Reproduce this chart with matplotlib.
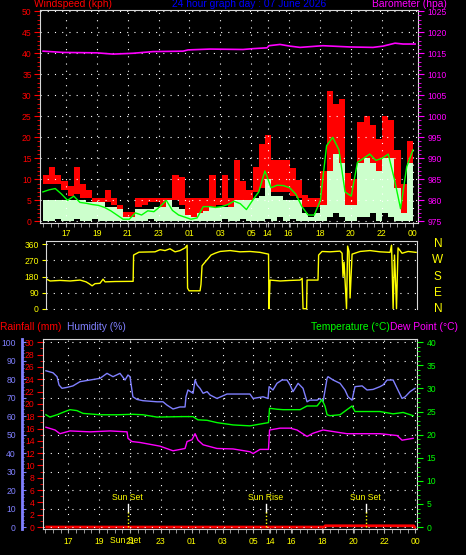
import matplotlib
matplotlib.use('Agg')
import matplotlib.pyplot as plt
from matplotlib.ticker import MultipleLocator

plt.rcParams['font.family'] = ['Liberation Sans', 'DejaVu Sans']

# x axis = hours after 16:00 (labels printed as on the original graph)
tick_pos = [1, 3, 5, 7, 9, 11, 13, 14.07, 15.43, 17.48, 19.47, 21.48, 23.5]
tick_lab = ['17', '19', '21', '23', '01', '03', '05', '14', '16', '18', '20', '22', '00']

# wind (kph)
wind_t = [-0.5, -0.1, 0.3, 0.7, 1.1, 1.5, 1.9, 2.3, 2.7, 3.1, 3.5, 3.9, 4.3, 4.7, 5.1,
          5.5, 5.9, 6.3, 6.7, 7.1, 7.5, 7.9, 8.3, 8.7, 9.1, 9.5, 9.9, 10.3, 10.7, 11.1,
          11.5, 11.9, 12.3, 12.7, 13.1, 13.5, 13.9, 14.3, 14.7, 15.1, 15.5, 15.9, 16.3,
          16.7, 17.1, 17.5, 17.9, 18.3, 18.7, 19.1, 19.5, 19.9, 20.3, 20.7, 21.1, 21.5,
          21.9, 22.3, 22.7, 23.1, 23.5]
gust_hi = [11, 13, 11, 9.5, 8.5, 13, 9, 7.5, 5.5, 5.5, 7.5, 5.5, 4, 2.3, 2.3, 5.5, 5.5,
           5.5, 5.5, 5.5, 5.5, 11, 10.5, 5.5, 5.5, 5.5, 5.5, 11, 5.5, 11, 5.5, 14.5, 9.5,
           7.5, 13, 18.5, 20.5, 14.5, 14.5, 14.5, 12.6, 9.8, 6.2, 5.5, 5.5, 12, 31, 28,
           29, 11.5, 10, 23.7, 25, 23, 19.7, 25, 24, 17, 9, 19, 27.5]
gust_lo = [9, 9, 9, 7.5, 6, 6.5, 5.5, 5.5, 4.5, 4.5, 4.5, 4, 3, 1, 1, 3.5, 4, 4.5, 4.5,
           3.5, 3.5, 5, 4, 1.5, 1, 1, 2.5, 3.5, 4, 4, 3.5, 5, 5, 4.5, 7, 8, 10, 7, 7, 7,
           6, 5.5, 3.5, 3.5, 3.5, 4, 12, 13, 12, 3.5, 4, 12, 12, 11, 10, 12, 12, 5, 2, 8, 14]
spd_hi = [5, 5, 5, 5, 5, 5, 5, 4.5, 4.5, 4.5, 3.5, 3.5, 3, 1, 1, 3, 3, 3, 3.5, 3.5, 5,
          3.5, 3, 1.5, 1, 2, 2.5, 3.5, 3.5, 3.5, 3.5, 5, 5, 5, 5.5, 6, 10, 6, 6, 5, 5, 5,
          2, 1, 2, 4, 12, 16, 14, 4, 4, 14, 15, 14, 12, 15, 15, 8, 2, 14, 16]
spd_lo = [0, 0, 0.5, 0, 0, 0.5, 0, 0, 0.5, 0, 0, 0, 0, 0, 0, 0, 0, 0.5, 0, 0,
          0, 0, 0, 0, 0, 0, 0, 0, 0, 0.5, 0, 0, 0.5, 0, 0, 0, 0.5, 0, 1, 0, 0.5,
          0, 0, 0, 0, 0, 1, 2, 1, 0, 0, 1, 1, 2, 0, 2, 1, 0, 0, 0, 1]
wind_avg = [7, 7.5, 7.8, 6.5, 5, 6, 4.5, 4.3, 4, 3.8, 3.3, 2.5, 1.5, 0.5, 0.5, 2, 1.5,
            2.5, 2.3, 3.5, 5, 2.6, 1.5, 1, 0.5, 0.8, 3.5, 3.5, 3.3, 3.5, 4, 4.8, 4.2, 2.8,
            5, 7, 12, 8, 8.6, 8.5, 8, 6.5, 3.5, 1.5, 1.5, 5, 18, 20, 17, 7, 6, 14, 15, 16,
            14.5, 15, 16, 10, 3, 13, 17]

# barometer (hpa)
baro_t = [-0.49, 0.81, 3.01, 4.05, 5.34, 6.64, 8.59, 8.91, 10.34, 12.48, 13.13, 14.04,
          14.16, 14.88, 15.53, 16.18, 17.28, 17.67, 19.42, 20.91, 21.56, 22.34, 22.86, 23.64]
baro_v = [1015.5, 1015.2, 1015.1, 1014.8, 1015.0, 1015.4, 1015.5, 1015.8, 1016.0, 1015.9,
          1016.1, 1016.3, 1016.8, 1017.1, 1016.7, 1016.4, 1016.7, 1016.8, 1016.5, 1016.4,
          1016.7, 1017.4, 1017.2, 1017.2]

# wind direction (deg)
dir_t = [-0.25, -0.04, 0.61, 1.26, 1.91, 2.30, 2.49, 2.69, 2.88, 3.20, 3.40, 3.53, 4.18,
         5.35, 5.38, 5.73, 6.77, 7.10, 7.42, 7.74, 8.07, 8.39, 8.72, 8.85, 8.88, 8.98,
         9.69, 9.75, 9.82, 10.01, 10.21, 10.40, 10.66, 10.99, 11.64, 12.28, 12.93, 13.58,
         14.13, 14.16, 14.23, 14.88, 15.53, 16.18, 16.31, 16.37, 16.60, 16.63, 17.34,
         17.38, 17.60, 18.12, 18.77, 18.90, 18.96, 19.03, 19.19, 19.26, 19.35, 19.42,
         19.55, 20.07, 20.71, 21.36, 22.01, 22.11, 22.21, 22.30, 22.37, 22.43, 22.53,
         22.79, 23.18, 23.70]
dir_v = [165, 155, 158, 155, 160, 150, 140, 128, 140, 142, 165, 150, 152, 153, 300, 316,
         318, 330, 325, 335, 318, 325, 340, 355, 115, 100, 100, 135, 240, 260, 280, 300,
         310, 320, 325, 318, 320, 315, 305, 0, 160, 155, 158, 160, 170, 0, 0, 160, 160,
         300, 320, 318, 322, 310, 180, 260, 0, 350, 320, 60, 305, 320, 325, 318, 315, 355,
         0, 300, 150, 0, 340, 310, 320, 315]

# humidity (%)
hum_t = [-0.45, 0.01, 0.27, 0.40, 0.59, 0.92, 1.30, 1.76, 2.41, 3.06, 3.51, 3.90, 4.35,
         4.68, 4.87, 5.00, 5.19, 5.45, 5.84, 6.75, 7.14, 7.40, 7.79, 8.24, 8.57, 8.63,
         8.76, 9.09, 9.22, 9.35, 9.54, 9.74, 10.00, 10.19, 10.64, 11.29, 12.78, 12.98,
         13.63, 13.95, 14.02, 14.27, 14.53, 14.86, 15.18, 15.38, 15.57, 15.90, 16.22,
         16.48, 16.67, 17.13, 17.32, 17.52, 17.78, 17.84, 18.17, 18.62, 18.94, 19.14,
         19.40, 19.59, 20.05, 20.37, 20.76, 21.21, 21.41, 21.67, 22.06, 22.32, 22.64,
         22.84, 23.16, 23.48]
hum_v = [84.6, 83.5, 81.4, 76.9, 75.1, 75.6, 76.4, 78.7, 79.6, 80.5, 83.2, 81.4, 83.2,
         79.6, 82.3, 81.4, 70.5, 69.1, 68.4, 67.8, 67.8, 66, 63.9, 65, 65, 70.5, 74.2,
         72.4, 79.6, 76.9, 75.1, 72.4, 73.3, 71.5, 69.6, 72, 72, 69.6, 70.5, 69.6, 76,
         74.2, 77.8, 79.6, 79.6, 76.9, 73.3, 77.8, 75.1, 67.8, 68.7, 68.7, 69.6, 67.8,
         80.5, 81.4, 79.6, 77.8, 74.2, 70.5, 68.7, 76, 76.4, 74.2, 74.5, 76, 76.9, 79.6,
         79.6, 75.1, 69.6, 70.5, 73.3, 75.1]

# temperature and dew point (C)
temp_t = [-0.45, -0.19, 0.27, 0.79, 1.11, 1.56, 1.95, 3.06, 4.16, 5.19, 5.84, 6.75, 8.44,
          9.09, 9.22, 9.41, 10.00, 10.64, 11.68, 12.78, 13.63, 13.98, 14.05, 14.53, 14.92,
          16.03, 16.48, 17.13, 17.32, 17.45, 17.65, 17.78, 17.97, 18.62, 19.07, 19.40,
          19.59, 20.11, 21.21, 22.06, 22.71, 23.36]
temp_v = [24.3, 23.8, 24.3, 25.0, 25.4, 25.2, 24.6, 24.3, 24.3, 24.4, 24.3, 23.8, 23.9,
          23.9, 23.6, 23.2, 23.1, 22.6, 22.1, 21.9, 22.4, 22.6, 25.7, 25.5, 25.4, 25.4,
          26.2, 26.2, 27.0, 27.6, 26.1, 24.3, 24.1, 24.3, 25.4, 26.2, 25.0, 25.0, 25.0,
          24.5, 24.8, 24.1]
dew_t = [-0.45, 0.14, 0.46, 1.11, 2.41, 3.71, 4.81, 4.87, 5.13, 5.65, 6.95, 7.79, 8.57,
         8.70, 9.02, 9.22, 9.41, 9.74, 10.64, 11.68, 12.78, 12.98, 13.43, 13.98, 14.05,
         14.73, 15.38, 15.83, 16.48, 16.87, 17.52, 19.07, 21.21, 22.32, 22.64, 23.36]
dew_v = [21.6, 21.0, 20.2, 20.8, 20.6, 20.8, 20.6, 19.2, 18.5, 18.3, 17.5, 16.5, 17.0,
         18.5, 18.9, 20.2, 18.8, 17.8, 17.0, 16.9, 16.3, 15.9, 16.8, 16.8, 21.0, 21.4,
         21.4, 21.0, 19.6, 20.3, 21.0, 20.2, 20.2, 19.8, 18.8, 19.2]

# rainfall (mm)
rain_t = [-0.4, 17.65, 17.65, 23.4, 23.45]
rain_v = [0, 0, 0.2, 0.2, 0]

sun_t = [4.85, 13.80, 20.29]
sun_lab = ['Sun Set', 'Sun Rise', 'Sun Set']

W, H = 466, 555
fig = plt.figure(figsize=(W / 100, H / 100), dpi=100, facecolor='black')


def add_px_axes(l, t, r, b):
    ax = fig.add_axes([l / W, 1 - b / H, (r - l) / W, (b - t) / H])
    ax.set_facecolor('black')
    return ax


grid_kw = dict(color='white', linestyle=(0, (1, 5.5)), linewidth=0.8)
frame = '#d8d8d8'
RED, GREEN, PALE, MAG, YEL, HUM = '#ff0000', '#00ff00', '#ccffcc', '#ff00ff', '#ffff00', '#8080ff'
TS = 6.2

# ---- wind / barometer
ax1 = add_px_axes(40, 10, 418, 223)
ax1.fill_between(wind_t, gust_lo, gust_hi, step='post', color=RED, lw=0)
ax1.fill_between(wind_t, spd_lo, spd_hi, step='post', color=PALE, lw=0)
ax1.plot(wind_t, wind_avg, color=GREEN, lw=1)
ax1.set_xlim(-0.69, 23.83)
ax1.set_ylim(-0.4, 50.3)
ax1.set_yticks(range(0, 51, 5))
ax1.yaxis.set_minor_locator(MultipleLocator(1))
ax1.tick_params(axis='y', which='both', colors=RED, labelsize=TS, pad=2)
ax1.tick_params(axis='y', which='major', length=4)
ax1.tick_params(axis='y', which='minor', length=2)
ax1.set_xticks(tick_pos)
ax1.set_xticklabels([])
ax1.xaxis.set_minor_locator(MultipleLocator(0.5))
ax1.tick_params(axis='x', which='both', colors='#b0b0b0', length=3)
ax1.grid(True, which='major', **grid_kw)
for s in ax1.spines.values():
    s.set_color(frame)

axb = ax1.twinx()
axb.plot(baro_t, baro_v, color=MAG, lw=1.2)
axb.set_ylim(974.6, 1025.3)
axb.set_yticks(range(975, 1026, 5))
axb.yaxis.set_minor_locator(MultipleLocator(1))
axb.tick_params(axis='y', which='both', colors=MAG, labelsize=TS, pad=3)
axb.tick_params(axis='y', which='major', length=4)
axb.tick_params(axis='y', which='minor', length=2)
for s in axb.spines.values():
    s.set_visible(False)

# ---- wind direction
ax2 = add_px_axes(45.7, 241, 416.7, 309.5)
ax2.plot(dir_t, dir_v, color=YEL, lw=1)
ax2.set_xlim(-0.32, 23.74)
ax2.set_ylim(-4.5, 378.5)
ax2.set_yticks([0, 90, 180, 270, 360])
ax2.tick_params(axis='y', colors=YEL, labelsize=TS, length=3, pad=2)
ax2.yaxis.grid(True, **grid_kw)
ax2.set_xticks(tick_pos)
ax2.set_xticklabels(tick_lab)
ax2.tick_params(axis='x', bottom=False, labelbottom=False, top=True, labeltop=True,
                length=0, pad=2, colors=YEL, labelsize=TS)
ax2.spines['bottom'].set_visible(False)
for k in ['top', 'left', 'right']:
    ax2.spines[k].set_color(frame)
for v, s in zip([360, 270, 180, 90, 0], ['N', 'W', 'S', 'E', 'N']):
    ax2.text(1.057, v, s, transform=ax2.get_yaxis_transform(), color=YEL,
             fontsize=8.5, ha='center', va='center')

# ---- rain / humidity / temperature
ax3 = add_px_axes(43, 339, 417, 529)
ax3.plot(rain_t, rain_v, color=RED, lw=2)
ax3.set_xlim(-0.64, 23.61)
ax3.set_ylim(-0.32, 30.54)
ax3.set_yticks(range(0, 31, 2))
ax3.yaxis.set_minor_locator(MultipleLocator(1))
ax3.tick_params(axis='y', which='both', colors=RED, labelsize=TS, pad=2)
ax3.tick_params(axis='y', which='major', length=4)
ax3.tick_params(axis='y', which='minor', length=2)
ax3.set_xticks(tick_pos)
ax3.set_xticklabels(tick_lab)
ax3.xaxis.set_minor_locator(MultipleLocator(0.5))
ax3.tick_params(axis='x', which='both', color='#b0b0b0', labelcolor=YEL, labelsize=TS,
                length=3, pad=3)
ax3.xaxis.grid(True, which='major', **grid_kw)
for s in ax3.spines.values():
    s.set_color(frame)
# the original prints "Sun Set" on top of the "21" hour label
ax3.text(4.68, -0.058, 'Sun Set', transform=ax3.get_xaxis_transform(), color=YEL,
         fontsize=TS, ha='center', va='center')

axh = ax3.twinx()
axh.plot(hum_t, hum_v, color=HUM, lw=1)
axh.set_ylim(-1.08, 101.8)
axh.set_yticks(range(0, 101, 10))
axh.yaxis.set_minor_locator(MultipleLocator(2))
axh.yaxis.tick_left()
for s in axh.spines.values():
    s.set_visible(False)
axh.spines['left'].set_visible(True)
axh.spines['left'].set_position(('outward', 15))
axh.spines['left'].set_color(HUM)
axh.spines['left'].set_linewidth(2)
axh.tick_params(axis='y', which='both', colors=HUM, labelsize=TS, direction='in', pad=4.5)
axh.tick_params(axis='y', which='major', length=3)
axh.tick_params(axis='y', which='minor', length=1.5)
axh.yaxis.grid(True, **grid_kw)

axt = ax3.twinx()
axt.plot(temp_t, temp_v, color=GREEN, lw=1)
axt.plot(dew_t, dew_v, color=MAG, lw=1)
axt.set_ylim(-0.43, 40.7)
axt.set_yticks(range(0, 41, 5))
axt.yaxis.set_minor_locator(MultipleLocator(1))
axt.tick_params(axis='y', which='both', colors=GREEN, labelsize=TS, pad=3)
axt.tick_params(axis='y', which='major', length=4)
axt.tick_params(axis='y', which='minor', length=2)
for s in axt.spines.values():
    s.set_visible(False)
for t, lab in zip(sun_t, sun_lab):
    axt.plot([t, t], [3.2, 4.9], color='white', lw=1)
    axt.plot([t, t], [0, 3.2], color=YEL, lw=1, linestyle=(0, (1, 1.5)))
    axt.text(t, 6.3, lab, color=YEL, fontsize=TS, ha='center', va='center')

# ---- headings
def head(x, y, s, c, ha='left'):
    fig.text(x / W, 1 - y / H, s, color=c, fontsize=7.4, ha=ha, va='center')


head(34, 4, 'Windspeed (kph)', RED)
head(172, 4, '24 hour graph day : 07 June 2026', '#0000ff')
head(372, 4, 'Barometer (hpa)', MAG)
head(0, 327, 'Rainfall (mm)', RED)
head(67, 327, 'Humidity (%)', HUM)
head(390, 327, 'Temperature (°C)', GREEN, ha='right')
head(390, 327, 'Dew Point (°C)', MAG)

fig.savefig('out.png', dpi=100, facecolor='black')
